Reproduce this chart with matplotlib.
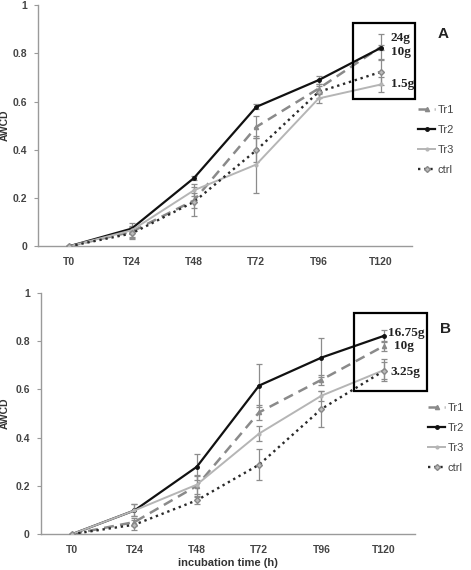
import matplotlib
matplotlib.use("Agg")
import matplotlib.pyplot as plt
from matplotlib.patches import Rectangle

# categories on the x axis
times = ["T0", "T24", "T48", "T72", "T96", "T120"]
x = list(range(len(times)))

# panel A values
a_tr1 = [0, 0.060, 0.190, 0.495, 0.654, 0.827]
a_tr2 = [0, 0.073, 0.283, 0.578, 0.689, 0.823]
a_tr3 = [0, 0.066, 0.232, 0.339, 0.613, 0.671]
a_ctrl = [0, 0.053, 0.184, 0.398, 0.640, 0.723]
a_tr1_err = [0, 0.020, 0.030, 0.045, 0.020, 0.055]
a_tr2_err = [0, 0.010, 0.010, 0.010, 0.015, 0.010]
a_tr3_err = [0, 0.030, 0.025, 0.120, 0.020, 0.030]
a_ctrl_err = [0, 0.025, 0.060, 0.050, 0.025, 0.055]

# panel B values
b_tr1 = [0, 0.050, 0.200, 0.505, 0.640, 0.780]
b_tr2 = [0, 0.098, 0.279, 0.616, 0.732, 0.822]
b_tr3 = [0, 0.098, 0.205, 0.417, 0.574, 0.680]
b_ctrl = [0, 0.039, 0.140, 0.288, 0.519, 0.677]
b_tr1_err = [0, 0.015, 0.040, 0.030, 0.020, 0.020]
b_tr2_err = [0, 0.025, 0.055, 0.090, 0.080, 0.025]
b_tr3_err = [0, 0.025, 0.040, 0.030, 0.020, 0.045]
b_ctrl_err = [0, 0.020, 0.015, 0.065, 0.075, 0.035]

labels = ["Tr1", "Tr2", "Tr3", "ctrl"]
a_notes = ["24g", "10g", "1.5g"]
a_note_y = [0.863, 0.805, 0.672]
b_notes = ["16.75g", "10g", "3.25g"]
b_note_y = [0.834, 0.780, 0.672]
b_note_x = [5.06, 5.17, 5.11]

styles = [
    dict(color="#8a8a8a", ls=(0, (4, 2.5)), lw=1.8, marker="^", ms=3),
    dict(color="#111111", ls="-", lw=1.6, marker="o", ms=2.5),
    dict(color="#b5b5b5", ls="-", lw=1.4, marker="o", ms=2),
    dict(color="#2a2a2a", ls=(0, (1, 1.6)), lw=1.7, marker="D", ms=3,
         mfc="#bbbbbb", mec="#888888"),
]

fig = plt.figure(figsize=(4.71, 5.70), dpi=100)
axA = fig.add_axes([0.081, 0.568, 0.794, 0.423])
axB = fig.add_axes([0.087, 0.063, 0.794, 0.423])


def draw(ax, series, errs, box, letter, letter_y, notes, note_x, note_y, leg_anchor, ylab_x):
    handles = []
    for vals, err, st, lab in zip(series, errs, styles, labels):
        ax.errorbar(x, vals, yerr=err, fmt="none", ecolor="#8c8c8c",
                    elinewidth=0.9, capsize=2, capthick=0.9, zorder=2)
        h, = ax.plot(x, vals, label=lab, zorder=3, **st)
        handles.append(h)
    ax.set_xlim(-0.5, 5.5)
    ax.set_ylim(0, 1)
    ax.set_xticks(x)
    ax.set_xticklabels(times)
    ax.set_yticks([0, 0.2, 0.4, 0.6, 0.8, 1])
    ax.set_yticklabels(["0", "0.2", "0.4", "0.6", "0.8", "1"])
    for s in ["top", "right"]:
        ax.spines[s].set_visible(False)
    for s in ["left", "bottom"]:
        ax.spines[s].set_color("#9a9a9a")
        ax.spines[s].set_linewidth(1.0)
    ax.tick_params(axis="x", length=0, pad=8)
    ax.tick_params(axis="y", length=3, color="#9a9a9a", pad=5)
    for t in ax.get_xticklabels() + ax.get_yticklabels():
        t.set_fontfamily("Liberation Sans")
        t.set_fontweight("bold")
        t.set_fontsize(7.5)
        t.set_color("#444444")
    ax.set_ylabel("AWCD", fontsize=7.5, fontweight="bold", color="#333333",
                  family="Liberation Sans")
    ax.yaxis.set_label_coords(ylab_x, 0.5)
    ax.add_patch(Rectangle((box[0], box[1]), box[2] - box[0], box[3] - box[1],
                           fill=False, ec="black", lw=1.6, clip_on=False, zorder=5))
    ax.text(5.99, letter_y, letter, fontsize=11, fontweight="bold",
            family="Liberation Sans", color="#222222", ha="center", va="center")
    for n, nx, ny in zip(notes, note_x, note_y):
        ax.text(nx, ny, n, fontsize=9.5, fontweight="bold", family="Liberation Serif",
                color="#222222", ha="left", va="center", zorder=6)
    leg = ax.legend(handles=handles, loc="center left", bbox_to_anchor=leg_anchor,
                    frameon=False, handlelength=1.5, handletextpad=0.25,
                    labelspacing=0.9, borderaxespad=0,
                    prop={"family": "Liberation Sans", "size": 8})
    for t in leg.get_texts():
        t.set_color("#444444")


draw(axA, [a_tr1, a_tr2, a_tr3, a_ctrl], [a_tr1_err, a_tr2_err, a_tr3_err, a_ctrl_err],
     (4.55, 0.61, 5.54, 0.925), "A", 0.88, a_notes, [5.16, 5.16, 5.16], a_note_y,
     (1.005, 0.44), -0.075)
draw(axB, [b_tr1, b_tr2, b_tr3, b_ctrl], [b_tr1_err, b_tr2_err, b_tr3_err, b_ctrl_err],
     (4.52, 0.593, 5.69, 0.917), "B", 0.85, b_notes, b_note_x, b_note_y,
     (1.024, 0.40), -0.083)

axB.set_xlabel("incubation time (h)", fontsize=8, fontweight="bold", color="#333333",
               family="Liberation Sans", labelpad=2)

fig.savefig("out.png", dpi=100)
